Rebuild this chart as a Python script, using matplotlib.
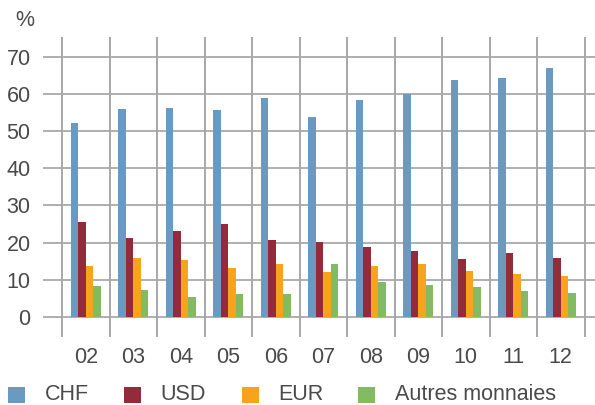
import matplotlib
matplotlib.use("Agg")
import matplotlib.pyplot as plt
from matplotlib.patches import Rectangle
import numpy as np

# Share of holdings by currency, per year
years = ["02", "03", "04", "05", "06", "07", "08", "09", "10", "11", "12"]
chf = [52.2, 56.1, 56.3, 55.8, 58.9, 53.8, 58.4, 59.9, 63.8, 64.3, 67.0]
usd = [25.5, 21.2, 23.1, 25.1, 20.7, 20.1, 18.8, 17.7, 15.6, 17.2, 15.8]
eur = [13.7, 15.8, 15.3, 13.1, 14.2, 12.0, 13.7, 14.2, 12.3, 11.5, 11.0]
autres = [8.3, 7.2, 5.3, 6.1, 6.1, 14.2, 9.3, 8.5, 8.0, 6.9, 6.4]

series_names = ["CHF", "USD", "EUR", "Autres monnaies"]
series_values = [chf, usd, eur, autres]
colors = ["#6a9ac2", "#942b3b", "#f7a31c", "#83bc60"]
yticks = [0, 10, 20, 30, 40, 50, 60, 70]

plt.rcParams["font.family"] = ["Liberation Sans", "DejaVu Sans"]
text_color = "#4a4a4a"
grid_color = "#9a9a9a"
fs = 15.5

W, H = 595, 405
fig = plt.figure(figsize=(W / 100, H / 100), dpi=100)
ax = fig.add_axes([43 / W, (H - 337) / H, 552 / W, 300 / H])

x = np.arange(len(years))
bw = 0.158
offsets = (np.arange(len(series_names)) - 1.5) * bw
for vals, off, c in zip(series_values, offsets, colors):
    ax.bar(x + off, vals, width=bw, color=c, zorder=3, linewidth=0)

ax.set_xlim(-0.9, 10.72)
ax.set_ylim(-5.47, 75.4)

for yv in yticks:
    ax.axhline(yv, color=grid_color, lw=1.1, zorder=1)
for xv in np.arange(len(years) + 1) - 0.5:
    ax.axvline(xv, color="#a8a8a8", lw=1.4, zorder=1)

for s in ax.spines.values():
    s.set_visible(False)

ax.set_yticks(yticks)
ax.set_yticklabels([str(v) for v in yticks])
ax.set_xticks(x)
ax.set_xticklabels(years)
ax.tick_params(axis="both", length=0, labelsize=fs, labelcolor=text_color)
ax.tick_params(axis="y", pad=9)
ax.tick_params(axis="x", pad=7)

fig.text(25 / W, 1 - 21 / H, "%", ha="center", va="center", fontsize=fs, color=text_color)

# Legend row
sq_x = [8, 124, 242, 358]
txt_x = [45, 160, 278, 395]
for name, c, sx, tx in zip(series_names, colors, sq_x, txt_x):
    fig.add_artist(Rectangle((sx / W, 1 - 403 / H), 17 / W, 16 / H,
                             transform=fig.transFigure, color=c, linewidth=0))
    fig.text(tx / W, 1 - 395 / H, name, ha="left", va="center",
             fontsize=fs, color=text_color)

fig.savefig("out.png", dpi=100)
